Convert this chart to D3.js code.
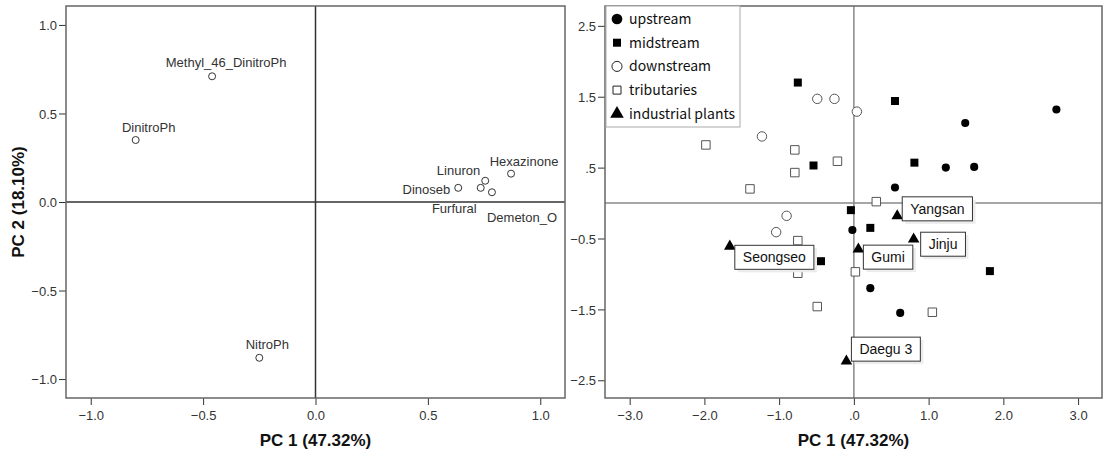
<!DOCTYPE html>
<html>
<head>
<meta charset="utf-8">
<script src="https://cdn.jsdelivr.net/npm/d3@7"></script>
<style>
  body { margin: 0; background: #fff; }
  svg { display: block; font-family: Arial, "Liberation Sans", sans-serif; }
  .tick text { font-size: 13px; fill: #333; }
  .tick line { stroke: #333; }
  .axis-title { font-size: 17px; font-weight: bold; fill: #111; }
  .frame { fill: none; stroke: #666; stroke-width: 1.5; }
</style>
</head>
<body>
<div id="chart"></div>
<script>
// Loading plot (left)
const loadingNames = ['Methyl_46_DinitroPh', 'DinitroPh', 'NitroPh', 'Dinoseb', 'Linuron', 'Furfural', 'Demeton_O', 'Hexazinone']
const loadingPC1 = [-0.46, -0.80, -0.25, 0.635, 0.755, 0.735, 0.785, 0.87]
const loadingPC2 = [0.71, 0.35, -0.88, 0.08, 0.12, 0.08, 0.055, 0.16]

// Score plot (right), one pair of arrays per group
const groupNames = ['upstream', 'midstream', 'downstream', 'tributaries', 'industrial plants']
const upstreamPC1 = [2.71, 1.49, 1.23, 1.61, 0.55, -0.02, 0.22, 0.62]
const upstreamPC2 = [1.32, 1.13, 0.50, 0.51, 0.22, -0.38, -1.20, -1.55]
const midstreamPC1 = [-0.75, -0.54, 0.55, 0.81, -0.04, 0.22, -0.44, 1.82]
const midstreamPC2 = [1.70, 0.53, 1.44, 0.57, -0.10, -0.35, -0.82, -0.96]
const downstreamPC1 = [-1.23, -0.49, -0.26, 0.04, -0.90, -1.04]
const downstreamPC2 = [0.94, 1.47, 1.47, 1.29, -0.18, -0.41]
const tributaryPC1 = [-1.98, -0.79, -0.79, -1.39, -0.22, 0.30, -0.75, -0.75, 0.02, -0.49, 1.05]
const tributaryPC2 = [0.82, 0.75, 0.43, 0.20, 0.59, 0.02, -0.53, -0.99, -0.97, -1.46, -1.54]
const plantNames = ['Seongseo', 'Yangsan', 'Gumi', 'Jinju', 'Daegu 3']
const plantPC1 = [-1.66, 0.58, 0.06, 0.80, -0.10]
const plantPC2 = [-0.61, -0.18, -0.65, -0.51, -2.23]

// Tick values
const leftTicks = [-1.0, -0.5, 0.0, 0.5, 1.0]
const rightXTicks = [-3, -2, -1, 0, 1, 2, 3]
const rightYTicks = [-2.5, -1.5, -0.5, 0.5, 1.5, 2.5]

// Label placement (pixels): [anchor, dx, dy] for loadings, [dx, dy] of box top-left for plants
const loadingLabelPos = [['middle', 14, -9], ['middle', 13, -8], ['middle', 8, -9], ['end', -8, 6],
  ['end', -5, -6], ['end', -4, 25], ['start', -5, 30], ['middle', 13, -8]]
const plantLabelPos = [[5, -1], [5, -19], [5, -4], [7, -7], [5, -24]]

const width = 1103
const height = 452

const svg = d3.select('#chart')
  .append('svg')
  .attr('width', width)
  .attr('height', height)

const zip = (xs, ys) => xs.map((x, i) => ({ x, y: ys[i] }))

// Draw frame, axes and zero lines of a panel
function drawPanel(x, y, xTicks, yTicks, fmt, zeroColor) {
  const [x0, x1] = x.range()
  const [y0, y1] = y.range()

  svg.append('line')
    .attr('x1', x(0)).attr('x2', x(0)).attr('y1', y1).attr('y2', y0)
    .attr('stroke', zeroColor).attr('stroke-width', 1.5)
  svg.append('line')
    .attr('x1', x0).attr('x2', x1).attr('y1', y(0)).attr('y2', y(0))
    .attr('stroke', zeroColor).attr('stroke-width', 1.5)

  svg.append('g')
    .attr('transform', `translate(0, ${y0})`)
    .call(d3.axisBottom(x).tickValues(xTicks).tickFormat(fmt).tickSize(7).tickPadding(6))
    .call(g => g.select('.domain').remove())

  svg.append('g')
    .attr('transform', `translate(${x0}, 0)`)
    .call(d3.axisLeft(y).tickValues(yTicks).tickFormat(fmt).tickSize(7).tickPadding(2))
    .call(g => g.select('.domain').remove())
    .selectAll('.tick text').attr('dy', '0.36em')

  svg.append('rect')
    .attr('class', 'frame')
    .attr('x', x0).attr('y', y1)
    .attr('width', x1 - x0).attr('height', y0 - y1)

  svg.append('text')
    .attr('class', 'axis-title')
    .attr('x', (x0 + x1) / 2)
    .attr('y', 446)
    .attr('text-anchor', 'middle')
    .text('PC 1 (47.32%)')
}

// ---------- Left: loadings ----------
const xL = d3.scaleLinear().domain([-1.11, 1.11]).range([66, 565])
const yL = d3.scaleLinear().domain([-1.107, 1.107]).range([398, 6])

drawPanel(xL, yL, leftTicks, leftTicks, d3.format('.1f'), '#333')

svg.append('text')
  .attr('class', 'axis-title')
  .attr('transform', `translate(24, ${yL(0)}) rotate(-90)`)
  .attr('text-anchor', 'middle')
  .text('PC 2 (18.10%)')

const loadings = loadingNames.map((name, i) => ({ name, x: loadingPC1[i], y: loadingPC2[i], pos: loadingLabelPos[i] }))

svg.append('g')
  .selectAll('circle')
  .data(loadings)
  .join('circle')
  .attr('cx', d => xL(d.x))
  .attr('cy', d => yL(d.y))
  .attr('r', 3.5)
  .attr('fill', '#fff')
  .attr('stroke', '#333')
  .attr('stroke-width', 1)

svg.append('g')
  .selectAll('text')
  .data(loadings)
  .join('text')
  .attr('x', d => xL(d.x) + d.pos[1])
  .attr('y', d => yL(d.y) + d.pos[2])
  .attr('text-anchor', d => d.pos[0])
  .attr('font-size', 13)
  .attr('fill', '#333')
  .text(d => d.name)

// ---------- Right: scores ----------
const xR = d3.scaleLinear().domain([-3.33, 3.32]).range([605, 1102])
const yR = d3.scaleLinear().domain([-2.75, 2.78]).range([398, 6])

const noLeadZero = v => d3.format('.1f')(v).replace(/^(-?)0\./, '$1.')
drawPanel(xR, yR, rightXTicks, rightYTicks, noLeadZero, '#888')

const groupStyle = [
  { type: d3.symbolCircle, size: 52, fill: '#000', stroke: 'none' },
  { type: d3.symbolSquare, size: 64, fill: '#000', stroke: 'none' },
  { type: d3.symbolCircle, size: 70, fill: '#fff', stroke: '#555' },
  { type: d3.symbolSquare, size: 72, fill: '#fff', stroke: '#555' },
  { type: d3.symbolTriangle, size: 58, fill: '#000', stroke: 'none' }
]

const groupPoints = [
  zip(upstreamPC1, upstreamPC2),
  zip(midstreamPC1, midstreamPC2),
  zip(downstreamPC1, downstreamPC2),
  zip(tributaryPC1, tributaryPC2),
  zip(plantPC1, plantPC2)
]

groupPoints.forEach((pts, gi) => {
  const s = groupStyle[gi]
  svg.append('g')
    .selectAll('path')
    .data(pts)
    .join('path')
    .attr('transform', d => `translate(${xR(d.x)}, ${yR(d.y)})`)
    .attr('d', d3.symbol().type(s.type).size(s.size))
    .attr('fill', s.fill)
    .attr('stroke', s.stroke)
    .attr('stroke-width', 1)
})

// Plant name boxes
plantNames.forEach((name, i) => {
  const bx = xR(plantPC1[i]) + plantLabelPos[i][0]
  const by = yR(plantPC2[i]) + plantLabelPos[i][1]
  const g = svg.append('g').attr('transform', `translate(${bx}, ${by})`)
  const shadow = g.append('rect').attr('x', 3).attr('y', 3).attr('height', 24).attr('fill', '#ececec')
  const box = g.append('rect').attr('height', 24).attr('fill', '#fff').attr('stroke', '#333').attr('stroke-width', 1)
  const t = g.append('text')
    .attr('x', 8).attr('y', 17)
    .attr('font-size', 14)
    .attr('fill', '#111')
    .text(name)
  const w = t.node().getComputedTextLength() + 16
  box.attr('width', w)
  shadow.attr('width', w)
})

// Legend
const legend = svg.append('g').attr('transform', 'translate(606, 6)')
legend.append('rect')
  .attr('width', 134).attr('height', 121)
  .attr('fill', '#fff').attr('stroke', '#aaa').attr('stroke-width', 1)

const legendSymbolSize = [90, 64, 80, 64, 80]
groupNames.forEach((name, i) => {
  const s = groupStyle[i]
  const gy = 13 + i * 23.7
  legend.append('path')
    .attr('transform', `translate(11, ${gy})`)
    .attr('d', d3.symbol().type(s.type).size(legendSymbolSize[i]))
    .attr('fill', s.fill)
    .attr('stroke', s.stroke === 'none' ? 'none' : '#222')
  legend.append('text')
    .attr('x', 23).attr('y', gy + 5)
    .attr('font-family', '"Noto Sans CJK KR", "Noto Sans", sans-serif')
    .attr('font-size', 14)
    .attr('fill', '#111')
    .text(name)
})
</script>
</body>
</html>
